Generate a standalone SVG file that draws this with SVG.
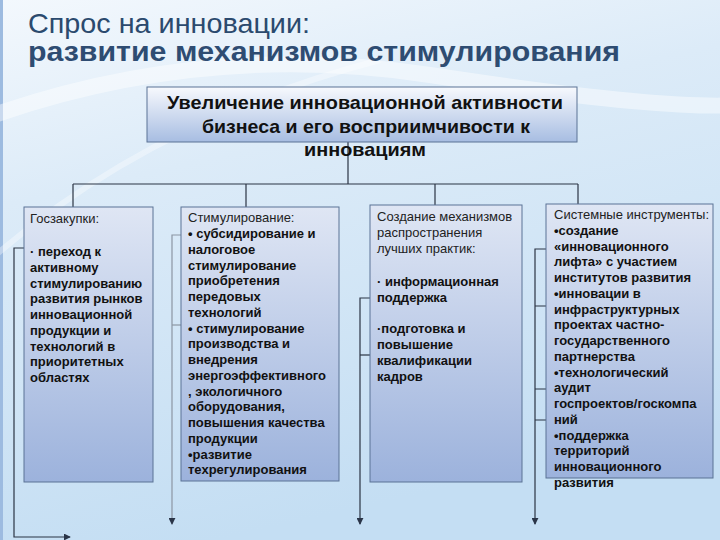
<svg xmlns="http://www.w3.org/2000/svg" width="720" height="540" viewBox="0 0 720 540">
<defs>
<linearGradient id="bg" x1="0" y1="0" x2="0.3" y2="1">
<stop offset="0" stop-color="#f3f8fd"/>
<stop offset="0.35" stop-color="#dcebf8"/>
<stop offset="1" stop-color="#c4def3"/>
</linearGradient>
<linearGradient id="topfill" x1="0" y1="0" x2="0" y2="1">
<stop offset="0" stop-color="#f7f9fd"/>
<stop offset="1" stop-color="#a7bde2"/>
</linearGradient>
<linearGradient id="boxfill" x1="0" y1="0" x2="0" y2="1">
<stop offset="0" stop-color="#dfe6f4"/>
<stop offset="1" stop-color="#9cb2dc"/>
</linearGradient>
<marker id="arr" viewBox="0 0 8 8" refX="7" refY="4" markerWidth="7" markerHeight="7" orient="auto" markerUnits="userSpaceOnUse">
<path d="M0,0 L8,4 L0,8 Z" fill="#2a3548"/>
</marker>
<style>
.box{stroke:#5b7395;stroke-width:1;fill:url(#boxfill)}
.top{stroke:#5b7395;stroke-width:1;fill:url(#topfill)}
.ln{stroke:#2b3444;stroke-width:1.2;fill:none}
.lg{stroke:#8c96a3;stroke-width:1.2;fill:none}
.hd{font-family:"Liberation Sans",Arial,sans-serif;font-size:13px;fill:#222}
.bd{font-family:"Liberation Sans",Arial,sans-serif;font-size:13px;font-weight:bold;fill:#111}
.tt{font-family:"Liberation Sans",Arial,sans-serif;font-size:19px;font-weight:bold;fill:#111}
</style>
</defs>
<rect width="720" height="540" fill="url(#bg)"/>
<rect x="0" y="0" width="3" height="540" fill="#9dbbe0"/>
<path d="M-20 120 Q 200 40 430 75 T 740 105" stroke="#ffffff" stroke-width="16" fill="none" opacity="0.45"/>
<path d="M-10 260 Q 150 120 380 60" stroke="#ffffff" stroke-width="6" fill="none" opacity="0.35"/>

<g id="title">
<text x="28" y="33" font-family="Liberation Sans, Arial, sans-serif" font-size="28" fill="#2b4a6e" textLength="282" lengthAdjust="spacingAndGlyphs">Спрос на инновации:</text>
<text x="28" y="61" font-family="Liberation Sans, Arial, sans-serif" font-size="28" font-weight="bold" fill="#2e4c72" textLength="592" lengthAdjust="spacingAndGlyphs">развитие механизмов стимулирования</text>
</g>

<g id="connectors">
<path class="ln" d="M348 142 V184 M73 184 H578 M73 184 V207 M246 184 V207 M435 184 V205 M578 184 V204"/>
<path class="ln" d="M24 248 H14 V537 H70" marker-end="url(#arr)"/>
<path class="lg" d="M181 235 H172 V524" marker-end="url(#arr)"/>
<path class="lg" d="M172 325 H181"/>
<path class="ln" d="M370 298 H360 V524" marker-end="url(#arr)"/>
<path class="ln" d="M360 355 H370"/>
<path class="ln" d="M546 249 H535 V524" marker-end="url(#arr)"/>
<path class="ln" d="M535 306 H546 M535 389 H546 M535 420 H546"/>
</g>

<g id="goal">
<rect class="top" x="147" y="87" width="430" height="55"/>
<text class="tt" text-anchor="middle" x="365" y="109" textLength="396" lengthAdjust="spacingAndGlyphs">Увеличение инновационной активности</text>
<text class="tt" text-anchor="middle" x="366" y="133" textLength="328" lengthAdjust="spacingAndGlyphs">бизнеса и его восприимчивости к</text>
<text class="tt" text-anchor="middle" x="365" y="156" textLength="122" lengthAdjust="spacingAndGlyphs">инновациям</text>
</g>

<g id="box1">
<rect class="box" x="24" y="207" width="129" height="275"/>
<text class="hd" x="30" y="223">Госзакупки:</text>
<text class="bd">
<tspan x="30" y="256">· переход к</tspan>
<tspan x="30" y="271.75">активному</tspan>
<tspan x="30" y="287.5">стимулированию</tspan>
<tspan x="30" y="303.25">развития рынков</tspan>
<tspan x="30" y="319">инновационной</tspan>
<tspan x="30" y="334.75">продукции и</tspan>
<tspan x="30" y="350.5">технологий в</tspan>
<tspan x="30" y="366.25">приоритетных</tspan>
<tspan x="30" y="382">областях</tspan>
</text>
</g>

<g id="box2">
<rect class="box" x="181" y="207" width="158" height="274"/>
<text class="hd" x="188" y="222">Стимулирование:</text>
<text class="bd">
<tspan x="188" y="238">• субсидирование и</tspan>
<tspan x="188" y="253.75">налоговое</tspan>
<tspan x="188" y="269.5">стимулирование</tspan>
<tspan x="188" y="285.25">приобретения</tspan>
<tspan x="188" y="301">передовых</tspan>
<tspan x="188" y="316.75">технологий</tspan>
<tspan x="188" y="332.5">• стимулирование</tspan>
<tspan x="188" y="348.25">производства и</tspan>
<tspan x="188" y="364">внедрения</tspan>
<tspan x="188" y="379.75">энергоэффективного</tspan>
<tspan x="188" y="395.5">, экологичного</tspan>
<tspan x="188" y="411.25">оборудования,</tspan>
<tspan x="188" y="427">повышения качества</tspan>
<tspan x="188" y="442.75">продукции</tspan>
<tspan x="188" y="458.5">•развитие</tspan>
<tspan x="188" y="474.25">техрегулирования</tspan>
</text>
</g>

<g id="box3">
<rect class="box" x="370" y="205" width="152" height="277"/>
<text class="hd">
<tspan x="377" y="221">Создание механизмов</tspan>
<tspan x="377" y="236.75">распространения</tspan>
<tspan x="377" y="252.5">лучших практик:</tspan>
</text>
<text class="bd">
<tspan x="377" y="286">· информационная</tspan>
<tspan x="377" y="301.75">поддержка</tspan>
<tspan x="377" y="333.25">·подготовка и</tspan>
<tspan x="377" y="349">повышение</tspan>
<tspan x="377" y="364.75">квалификации</tspan>
<tspan x="377" y="380.5">кадров</tspan>
</text>
</g>

<g id="box4">
<rect class="box" x="546" y="204" width="167" height="274"/>
<text class="hd" x="554" y="219">Системные инструменты:</text>
<text class="bd">
<tspan x="554" y="234.75">•создание</tspan>
<tspan x="554" y="250.5">«инновационного</tspan>
<tspan x="554" y="266.25">лифта» с участием</tspan>
<tspan x="554" y="282">институтов развития</tspan>
<tspan x="554" y="297.75">•инновации в</tspan>
<tspan x="554" y="313.5">инфраструктурных</tspan>
<tspan x="554" y="329.25">проектах частно-</tspan>
<tspan x="554" y="345">государственного</tspan>
<tspan x="554" y="360.75">партнерства</tspan>
<tspan x="554" y="376.5">•технологический</tspan>
<tspan x="554" y="392.25">аудит</tspan>
<tspan x="554" y="408">госпроектов/госкомпа</tspan>
<tspan x="554" y="423.75">ний</tspan>
<tspan x="554" y="439.5">•поддержка</tspan>
<tspan x="554" y="455.25">территорий</tspan>
<tspan x="554" y="471">инновационного</tspan>
<tspan x="554" y="486.75">развития</tspan>
</text>
</g>
</svg>
